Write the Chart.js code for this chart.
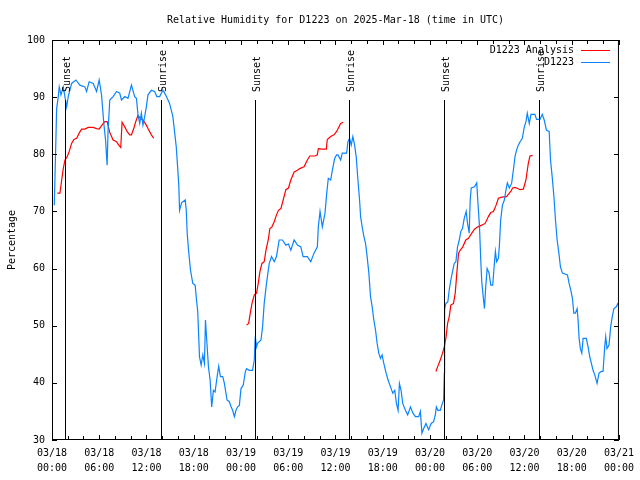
<!DOCTYPE html>
<html>
<head>
<meta charset="utf-8">
<title>Relative Humidity for D1223</title>
<script src="https://cdn.jsdelivr.net/npm/chart.js@4/dist/chart.umd.min.js"></script>
<style>
  html, body { margin: 0; padding: 0; background: #fff; }
  canvas { display: block; }
</style>
</head>
<body>
<canvas id="rh-chart" width="640" height="480"></canvas>
<script>
// hours since 03/18 00:00 UTC, relative humidity (%)
const d1223Obs = [
  [0.29,71.1],[0.59,88.0],[0.80,90.1],[0.92,91.8],[1.14,90.4],[1.43,91.8],[1.86,88.3],[2.06,90.1],
  [2.49,92.4],[3.04,93.0],[3.54,92.1],[4.18,91.8],[4.39,91.0],[4.72,92.7],[5.23,92.4],[5.66,91.0],
  [5.99,93.0],[6.29,90.4],[6.58,85.4],[6.80,82.5],[7.00,78.1],[7.12,84.2],[7.34,89.5],[7.76,90.1],
  [8.19,91.0],[8.60,90.7],[8.82,89.5],[9.24,90.1],[9.65,89.8],[10.09,92.1],[10.50,90.1],[10.72,89.8],
  [10.92,86.9],[11.14,85.4],[11.35,87.2],[11.55,85.1],[11.77,86.6],[11.98,88.3],[12.19,90.4],[12.62,91.2],
  [13.03,91.0],[13.32,90.1],[13.67,90.1],[14.08,91.2],[14.43,90.4],[14.93,88.9],[15.35,86.6],[15.78,81.3],
  [15.98,77.2],[16.11,74.3],[16.20,70.2],[16.45,71.5],[16.92,72.0],[17.05,70.2],[17.17,66.2],[17.34,63.2],
  [17.59,59.7],[17.88,57.4],[18.18,57.1],[18.31,55.1],[18.51,52.4],[18.60,49.2],[18.73,44.6],[18.94,43.1],
  [19.15,44.9],[19.36,43.4],[19.49,51.0],[19.65,47.5],[19.87,42.8],[20.08,40.5],[20.28,35.8],[20.50,38.7],
  [20.71,38.4],[20.97,41.1],[21.17,42.9],[21.39,41.1],[21.68,41.1],[21.89,39.9],[22.23,37.0],[22.52,36.7],
  [22.74,35.8],[22.94,35.2],[23.16,34.1],[23.37,35.2],[23.57,35.8],[23.79,36.0],[24.00,39.0],[24.29,39.6],
  [24.55,41.9],[24.71,42.5],[25.05,42.2],[25.47,42.2],[25.69,44.0],[25.81,48.1],[25.98,46.3],[26.10,46.9],
  [26.54,47.5],[26.74,49.8],[26.95,53.9],[27.24,57.4],[27.59,60.9],[27.88,62.1],[28.22,61.2],[28.51,62.1],
  [28.85,65.0],[29.27,65.0],[29.70,64.1],[30.03,64.3],[30.33,63.2],[30.75,65.0],[31.17,64.1],[31.60,63.8],
  [31.89,62.1],[32.43,62.1],[32.86,61.2],[33.28,62.7],[33.70,63.8],[33.82,67.3],[34.04,70.0],[34.33,67.3],
  [34.67,69.7],[34.89,73.2],[35.09,75.8],[35.39,75.5],[35.60,77.2],[35.90,79.3],[36.15,79.9],[36.32,79.9],
  [36.66,79.0],[36.86,80.2],[37.42,80.2],[37.58,82.2],[37.80,82.8],[38.00,81.6],[38.21,83.1],[38.43,81.6],
  [38.63,79.6],[38.85,75.5],[39.06,72.0],[39.19,69.1],[39.39,67.3],[39.61,65.6],[39.82,64.4],[40.02,62.1],
  [40.24,59.2],[40.45,55.1],[40.66,53.3],[40.87,51.0],[41.09,49.2],[41.29,46.9],[41.50,45.2],[41.72,44.3],
  [41.92,44.9],[42.14,43.4],[42.43,41.7],[42.68,40.5],[42.99,39.3],[43.28,38.2],[43.53,38.7],[43.74,36.4],
  [43.95,35.2],[44.12,39.9],[44.33,38.7],[44.54,36.4],[44.88,35.2],[45.17,34.4],[45.52,35.8],[45.84,34.7],
  [46.15,34.1],[46.57,34.1],[46.78,35.0],[46.98,31.2],[47.20,32.0],[47.49,32.9],[47.83,31.8],[48.15,32.9],
  [48.46,33.2],[48.68,34.4],[48.81,35.8],[49.01,35.2],[49.31,35.2],[49.51,36.1],[49.73,37.0],[49.82,41.7],
  [49.86,52.8],[50.02,53.9],[50.27,54.2],[50.45,56.3],[50.65,58.0],[50.87,59.5],[51.08,60.9],[51.29,61.2],
  [51.50,63.8],[51.72,65.0],[51.92,66.5],[52.13,67.0],[52.35,68.8],[52.60,70.0],[52.77,67.9],[52.98,66.2],
  [53.11,72.0],[53.24,74.1],[53.65,74.3],[53.94,75.0],[54.07,72.0],[54.29,67.3],[54.45,61.5],[54.58,57.7],
  [54.76,55.1],[54.92,53.0],[55.08,56.8],[55.26,60.0],[55.51,59.2],[55.72,57.1],[55.97,57.1],[56.18,60.9],
  [56.31,63.0],[56.47,61.2],[56.69,61.8],[56.82,64.1],[56.98,68.5],[57.20,71.1],[57.45,72.0],[57.66,73.8],
  [57.83,75.0],[58.08,74.1],[58.37,74.9],[58.59,77.2],[58.80,79.6],[59.01,80.8],[59.22,81.6],[59.44,82.2],
  [59.73,82.8],[59.98,84.8],[60.19,85.7],[60.36,87.2],[60.61,85.4],[60.83,87.0],[61.33,87.0],[61.54,86.1],
  [61.97,86.1],[62.26,87.0],[62.51,86.0],[62.80,84.2],[63.14,84.0],[63.31,79.0],[63.52,76.1],[63.74,72.6],
  [63.94,68.5],[64.15,65.0],[64.37,62.7],[64.57,60.3],[64.82,59.2],[65.46,58.9],[65.67,57.4],[65.89,56.2],
  [66.09,54.8],[66.27,52.2],[66.47,52.2],[66.69,53.0],[66.81,51.0],[66.94,47.8],[67.10,46.0],[67.28,45.2],
  [67.45,47.8],[67.86,47.8],[68.08,46.3],[68.29,44.6],[68.50,43.4],[68.71,42.2],[68.93,41.4],[69.22,39.9],
  [69.47,41.7],[69.76,42.0],[69.98,42.0],[70.19,46.3],[70.32,48.1],[70.48,46.0],[70.74,46.6],[70.95,49.8],
  [71.15,51.6],[71.36,53.0],[71.66,53.3],[71.87,53.9],[72.00,54.0]
];

// three analysis runs, null marks the gap between them
const d1223Analysis = [
  [0.67,73.2],[1.01,73.2],[1.23,75.5],[1.43,77.5],[1.65,79.0],[1.94,79.6],[2.19,80.5],[2.49,81.9],
  [2.78,82.6],[3.13,82.8],[3.45,83.7],[3.76,84.4],[4.18,84.4],[4.59,84.7],[5.23,84.7],[5.66,84.5],
  [5.99,84.4],[6.29,85.0],[6.71,85.7],[7.00,85.7],[7.34,83.8],[7.76,82.5],[8.19,82.2],[8.48,81.6],
  [8.73,81.2],[8.90,85.6],[9.24,84.8],[9.53,84.0],[9.87,83.4],[10.09,83.4],[10.38,84.5],[10.63,85.7],
  [10.92,86.8],[11.22,86.3],[11.55,86.0],[11.98,85.1],[12.19,84.5],[12.62,83.4],[12.91,82.8],
  [18.00,null],
  [24.71,50.1],[24.97,50.4],[25.18,52.2],[25.40,53.9],[25.69,55.4],[25.98,55.7],[26.19,57.4],[26.41,59.5],
  [26.66,60.9],[26.95,61.2],[27.17,63.2],[27.46,65.0],[27.67,67.0],[27.93,67.3],[28.22,68.2],[28.51,69.4],
  [28.76,70.2],[29.07,70.5],[29.36,72.0],[29.70,73.8],[30.03,74.1],[30.33,75.5],[30.75,76.9],[31.17,77.2],
  [31.47,77.5],[32.01,77.8],[32.43,79.0],[32.74,79.7],[33.41,79.7],[33.70,79.9],[33.82,81.0],[34.33,80.9],
  [34.84,80.9],[34.96,82.6],[35.39,83.1],[35.81,83.4],[36.15,84.0],[36.66,85.4],[36.99,85.6],
  [42.00,null],
  [48.76,42.0],[48.97,42.8],[49.31,44.0],[49.60,45.2],[49.82,46.3],[50.02,47.8],[50.24,50.4],[50.45,51.6],
  [50.65,53.6],[50.99,53.9],[51.21,55.7],[51.41,59.2],[51.63,62.7],[51.84,63.2],[52.17,63.8],[52.55,65.0],
  [52.89,65.3],[53.31,66.2],[53.65,66.9],[54.07,67.3],[54.58,67.6],[55.01,67.9],[55.42,69.1],[55.72,69.8],
  [56.06,70.0],[56.40,71.1],[56.69,72.3],[57.11,72.5],[57.74,72.6],[57.95,73.0],[58.30,73.6],[58.50,74.1],
  [58.80,74.2],[59.01,74.1],[59.44,73.8],[59.86,73.9],[60.19,75.5],[60.36,77.2],[60.49,78.4],[60.70,79.7],
  [61.03,79.8]
];

const sunEventHours  = [1.68, 13.83, 25.73, 37.75, 49.77, 61.79];
const sunEventLabels = ['Sunset', 'Sunrise', 'Sunset', 'Sunrise', 'Sunset', 'Sunrise'];

const tickDates = ['03/18','03/18','03/18','03/18','03/19','03/19','03/19','03/19','03/20','03/20','03/20','03/20','03/21'];
const tickTimes = ['00:00','06:00','12:00','18:00','00:00','06:00','12:00','18:00','00:00','06:00','12:00','18:00','00:00'];

const seriesNames  = ['D1223 Analysis', 'D1223'];
const seriesColors = ['#ff0000', '#0a84ff'];

const FONT = '"DejaVu Sans Mono", "Liberation Mono", monospace';

function toPoints(pairs) {
    return pairs.map(p => ({ x: p[0], y: p[1] }));
}

// gnuplot-ish frame, inward ticks, sun markers, key and titles
const gnuplotDecor = {
    id: 'gnuplotDecor',
    beforeDraw(chart) {
        const ctx = chart.ctx;
        ctx.save();
        ctx.fillStyle = '#fff';
        ctx.fillRect(0, 0, chart.width, chart.height);
        ctx.restore();
    },
    afterDraw(chart) {
        const ctx = chart.ctx;
        const a = chart.chartArea;
        const xs = chart.scales.x;
        const ys = chart.scales.y;
        const h = a.bottom - a.top;

        ctx.save();
        ctx.strokeStyle = '#000';
        ctx.lineWidth = 1;
        ctx.strokeRect(a.left + 0.5, a.top + 0.5, a.right - a.left - 1, h - 1);

        ctx.beginPath();
        for (let t = 0; t <= 72; t += 2) {
            const px = Math.round(xs.getPixelForValue(t)) + 0.5;
            const len = t % 6 === 0 ? 5 : 4;
            ctx.moveTo(px, a.bottom); ctx.lineTo(px, a.bottom - len);
            ctx.moveTo(px, a.top);    ctx.lineTo(px, a.top + len);
        }
        for (let v = 30; v <= 100; v += 10) {
            const py = Math.round(ys.getPixelForValue(v)) + 0.5;
            ctx.moveTo(a.left, py);  ctx.lineTo(a.left + 5, py);
            ctx.moveTo(a.right, py); ctx.lineTo(a.right - 5, py);
        }
        ctx.stroke();

        // sunrise / sunset markers
        ctx.font = '10px ' + FONT;
        ctx.fillStyle = '#000';
        sunEventHours.forEach((hr, i) => {
            const px = Math.round(xs.getPixelForValue(hr)) + 0.5;
            ctx.beginPath();
            ctx.moveTo(px, a.bottom);
            ctx.lineTo(px, a.bottom - 0.85 * h);
            ctx.stroke();
            ctx.save();
            ctx.translate(px + 2, a.bottom - 0.87 * h);
            ctx.rotate(-Math.PI / 2);
            ctx.textAlign = 'left';
            ctx.textBaseline = 'middle';
            ctx.fillText(sunEventLabels[i], 0, 0);
            ctx.restore();
        });

        // key
        ctx.textAlign = 'right';
        ctx.textBaseline = 'middle';
        seriesNames.forEach((name, i) => {
            const ky = 50 + i * 12;
            ctx.fillStyle = '#000';
            ctx.fillText(name, 574, ky);
            ctx.strokeStyle = seriesColors[i];
            ctx.beginPath();
            ctx.moveTo(581, ky + 0.5);
            ctx.lineTo(610, ky + 0.5);
            ctx.stroke();
        });

        // title and y label
        ctx.fillStyle = '#000';
        ctx.textAlign = 'center';
        ctx.fillText('Relative Humidity for D1223 on 2025-Mar-18 (time in UTC)', (a.left + a.right) / 2, 20);
        ctx.save();
        ctx.translate(12, (a.top + a.bottom) / 2);
        ctx.rotate(-Math.PI / 2);
        ctx.fillText('Percentage', 0, 0);
        ctx.restore();
        ctx.restore();
    }
};

function initChart() {
    const canvas = document.getElementById('rh-chart');
    new Chart(canvas, {
        type: 'line',
        data: {
            datasets: [{
                label: seriesNames[0],
                data: toPoints(d1223Analysis),
                borderColor: seriesColors[0],
                borderWidth: 1.2,
                pointRadius: 0,
                spanGaps: false,
                tension: 0,
                order: 1
            }, {
                label: seriesNames[1],
                data: toPoints(d1223Obs),
                borderColor: seriesColors[1],
                borderWidth: 1.2,
                pointRadius: 0,
                tension: 0,
                order: 0
            }]
        },
        options: {
            responsive: false,
            animation: false,
            devicePixelRatio: 1,
            layout: { padding: { top: 40, right: 19, bottom: 0, left: 0 } },
            plugins: {
                legend: { display: false },
                title: { display: false },
                tooltip: { enabled: false }
            },
            scales: {
                x: {
                    type: 'linear',
                    min: 0,
                    max: 72,
                    grid: { display: false, drawTicks: false },
                    border: { display: false },
                    afterFit: s => { s.height = 40; },
                    ticks: {
                        stepSize: 6,
                        autoSkip: false,
                        maxRotation: 0,
                        padding: 6,
                        color: '#000',
                        font: { family: FONT, size: 10, lineHeight: 1.5 },
                        callback: (v, i) => [tickDates[i], tickTimes[i]]
                    }
                },
                y: {
                    min: 30,
                    max: 100,
                    grid: { display: false, drawTicks: false },
                    border: { display: false },
                    afterFit: s => { s.width = 52; },
                    ticks: {
                        stepSize: 10,
                        padding: 7,
                        color: '#000',
                        font: { family: FONT, size: 10 }
                    }
                }
            }
        },
        plugins: [gnuplotDecor]
    });
}

initChart();
</script>
</body>
</html>
